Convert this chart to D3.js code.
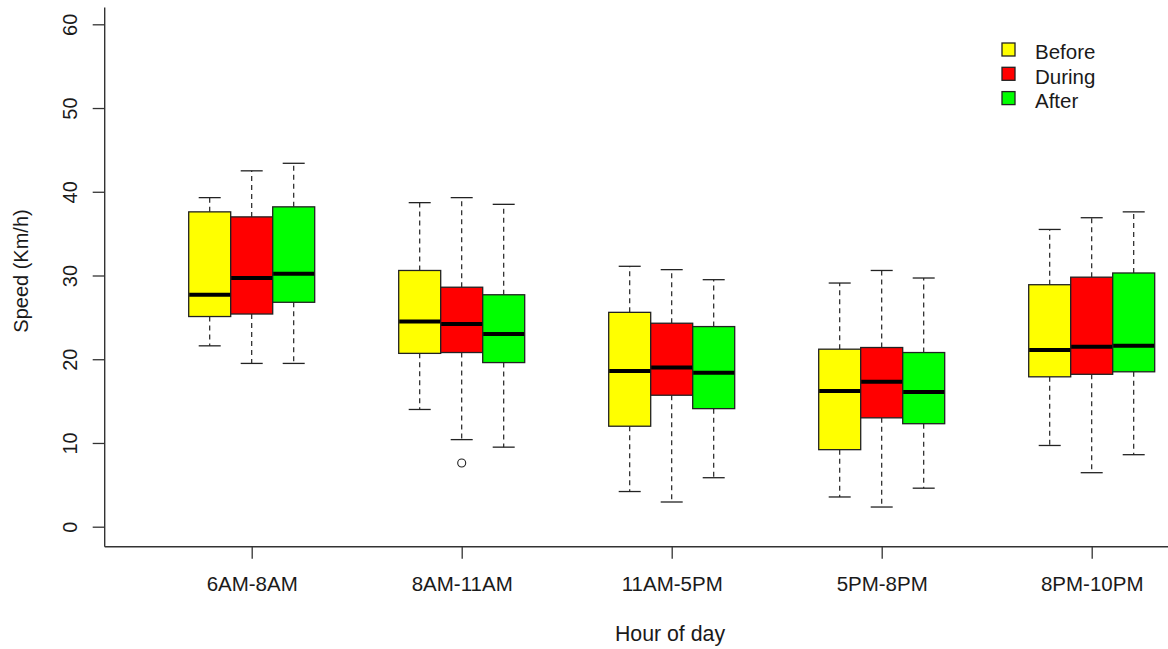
<!DOCTYPE html>
<html>
<head>
<meta charset="utf-8">
<script src="https://cdn.jsdelivr.net/npm/d3@7"></script>
<style>
  body { margin: 0; background: #fff; }
  text { font-family: "Liberation Sans", Arial, sans-serif; fill: #1a1a1a; }
</style>
</head>
<body>
<svg id="chart" width="1168" height="649"></svg>
<script>
// categories
const hours = ["6AM-8AM", "8AM-11AM", "11AM-5PM", "5PM-8PM", "8PM-10PM"];
const periods = ["Before", "During", "After"];
const periodColors = ["#ffff00", "#ff0000", "#00ff00"];
const yTicks = [0, 10, 20, 30, 40, 50, 60];

// box stats, rows = hours, cols = Before / During / After
const whiskerLow  = [[21.6, 19.5, 19.5], [14.0, 10.4, 9.5], [4.2, 2.95, 5.85], [3.55, 2.35, 4.6], [9.7, 6.45, 8.6]];
const q1          = [[25.1, 25.4, 26.8], [20.7, 20.8, 19.6], [12.0, 15.7, 14.1], [9.2, 13.0, 12.3], [17.9, 18.2, 18.5]];
const medians     = [[27.7, 29.7, 30.2], [24.5, 24.2, 23.0], [18.6, 19.0, 18.4], [16.2, 17.3, 16.1], [21.1, 21.5, 21.6]];
const q3          = [[37.6, 37.0, 38.2], [30.6, 28.6, 27.7], [25.6, 24.3, 23.9], [21.2, 21.4, 20.8], [28.9, 29.8, 30.3]];
const whiskerHigh = [[39.3, 42.5, 43.4], [38.7, 39.3, 38.5], [31.1, 30.7, 29.5], [29.1, 30.6, 29.7], [35.5, 36.9, 37.6]];
const outliers = [{hour: "8AM-11AM", period: "During", value: 7.6}];

const svg = d3.select("#chart");

// numeric group position (1..5) like R's boxplot "at"
const xNum = d3.scaleLinear().domain([1, 5]).range([251.7, 1091.7]);
const x = d3.scalePoint().domain(hours).range([251.7, 1091.7]);
const xInner = d3.scaleBand().domain(periods).range([-63, 63]);
const y = d3.scaleLinear().domain([0, 60]).range([526.7, 24.3]);
const color = d3.scaleOrdinal().domain(periods).range(periodColors);

const boxW = xInner.bandwidth();
const capHalf = boxW / 4 + 0.5;

const rows = [];
hours.forEach((h, i) => {
    periods.forEach((p, j) => {
        rows.push({hour: h, period: p, lo: whiskerLow[i][j], q1: q1[i][j],
            med: medians[i][j], q3: q3[i][j], hi: whiskerHigh[i][j]});
    });
});

const cx = d => x(d.hour) + xInner(d.period) + boxW / 2;

const g = svg.append("g");

// whiskers (dashed)
g.selectAll("line.wlow").data(rows).enter().append("line")
    .attr("x1", cx).attr("x2", cx)
    .attr("y1", d => y(d.q1)).attr("y2", d => y(d.lo))
    .attr("stroke", "#222").attr("stroke-width", 1.2)
    .attr("stroke-dasharray", "5,4");
g.selectAll("line.whigh").data(rows).enter().append("line")
    .attr("x1", cx).attr("x2", cx)
    .attr("y1", d => y(d.q3)).attr("y2", d => y(d.hi))
    .attr("stroke", "#222").attr("stroke-width", 1.2)
    .attr("stroke-dasharray", "5,4");

// caps
["lo", "hi"].forEach(k => {
    g.selectAll("line.cap" + k).data(rows).enter().append("line")
        .attr("x1", d => cx(d) - capHalf).attr("x2", d => cx(d) + capHalf)
        .attr("y1", d => y(d[k])).attr("y2", d => y(d[k]))
        .attr("stroke", "#222").attr("stroke-width", 1.3);
});

// boxes
g.selectAll("rect.box").data(rows).enter().append("rect")
    .attr("x", d => x(d.hour) + xInner(d.period))
    .attr("y", d => y(d.q3))
    .attr("width", boxW)
    .attr("height", d => y(d.q1) - y(d.q3))
    .attr("fill", d => color(d.period))
    .attr("stroke", "#222").attr("stroke-width", 1.3);

// medians
g.selectAll("line.med").data(rows).enter().append("line")
    .attr("x1", d => x(d.hour) + xInner(d.period) + 0.5)
    .attr("x2", d => x(d.hour) + xInner(d.period) + boxW - 0.5)
    .attr("y1", d => y(d.med)).attr("y2", d => y(d.med))
    .attr("stroke", "#000").attr("stroke-width", 4);

// outliers
g.selectAll("circle.out").data(outliers).enter().append("circle")
    .attr("cx", d => x(d.hour) + xInner(d.period) + boxW / 2)
    .attr("cy", d => y(d.value))
    .attr("r", 4)
    .attr("fill", "none").attr("stroke", "#222").attr("stroke-width", 1.1);

// axes lines (L frame)
const xLeft = xNum(0.3), xRight = xNum(5.7);
svg.append("line")
    .attr("x1", xLeft).attr("x2", xLeft)
    .attr("y1", y(-2.4)).attr("y2", y(62))
    .attr("stroke", "#333").attr("stroke-width", 1.4);
svg.append("line")
    .attr("x1", xLeft).attr("x2", xRight)
    .attr("y1", y(-2.4)).attr("y2", y(-2.4))
    .attr("stroke", "#333").attr("stroke-width", 1.4);

// y axis
const yAxis = svg.append("g")
    .attr("transform", "translate(" + xLeft + ",0)")
    .call(d3.axisLeft(y).tickValues(yTicks).tickSize(12).tickSizeOuter(0).tickFormat(d3.format("d")));
yAxis.select(".domain").remove();
yAxis.selectAll(".tick line").attr("stroke", "#333").attr("stroke-width", 1.3);
yAxis.selectAll(".tick text")
    .attr("x", 0).attr("y", 0).attr("dy", null)
    .attr("transform", "translate(-35,0) rotate(-90)")
    .attr("text-anchor", "middle")
    .attr("dominant-baseline", "central")
    .style("font-size", "20px").attr("fill", "#1a1a1a");

// x axis
const xAxis = svg.append("g")
    .attr("transform", "translate(0," + y(-2.4) + ")")
    .call(d3.axisBottom(x).tickSize(12).tickSizeOuter(0));
xAxis.select(".domain").remove();
xAxis.selectAll(".tick line").attr("stroke", "#333").attr("stroke-width", 1.3);
xAxis.selectAll(".tick text")
    .attr("y", 44).attr("dy", null)
    .style("font-size", "20.5px").attr("fill", "#1a1a1a");

// axis titles
svg.append("text")
    .attr("x", 670).attr("y", 641)
    .attr("text-anchor", "middle")
    .style("font-size", "21.3px")
    .text("Hour of day");
svg.append("text")
    .attr("transform", "translate(21,271) rotate(-90)")
    .attr("text-anchor", "middle")
    .attr("dominant-baseline", "central")
    .style("font-size", "20px")
    .text("Speed (Km/h)");

// legend
const legend = svg.append("g").attr("transform", "translate(1002,43)");
periods.forEach((p, i) => {
    const row = legend.append("g").attr("transform", "translate(0," + (i * 24.3) + ")");
    row.append("rect")
        .attr("width", 13).attr("height", 13)
        .attr("fill", color(p))
        .attr("stroke", "#222").attr("stroke-width", 1.3);
    row.append("text")
        .attr("x", 33).attr("y", 16.3)
        .style("font-size", "20.5px")
        .text(p);
});
</script>
</body>
</html>
